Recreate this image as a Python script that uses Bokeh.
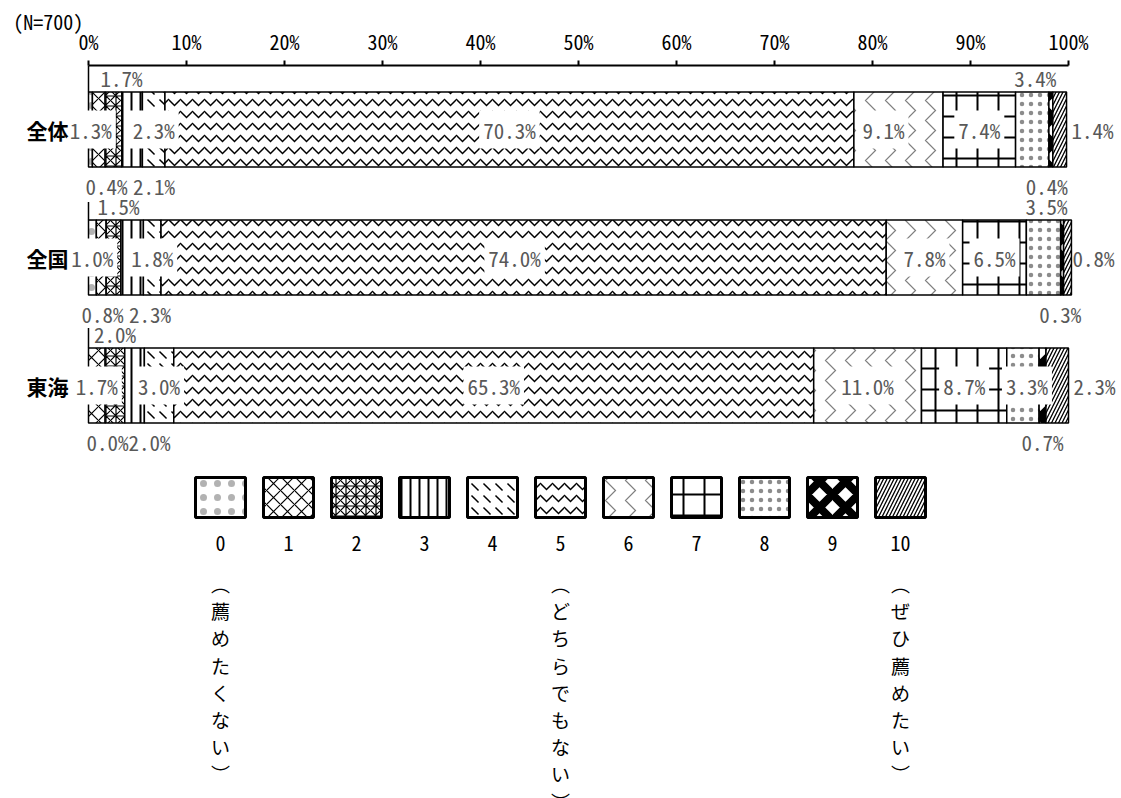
from bokeh.plotting import figure
from bokeh.models import ColumnDataSource, Range1d, LinearAxis, FixedTicker
from bokeh.core.properties import value
from bokeh.embed import file_html
from bokeh.resources import INLINE

# ---------------- data ----------------
categories = ["全体", "全国", "東海"]
sample_note = "(N=700)"
scale_points = ["0", "1", "2", "3", "4", "5", "6", "7", "8", "9", "10"]
anchor_index = [0, 5, 10]
anchor_text = ["（薦めたくない）", "（どちらでもない）", "（ぜひ薦めたい）"]
pct_overall = [0.4, 1.3, 1.7, 2.1, 2.3, 70.3, 9.1, 7.4, 3.4, 0.4, 1.4]
pct_national = [0.8, 1.0, 1.5, 2.3, 1.8, 74.0, 7.8, 6.5, 3.5, 0.3, 0.8]
pct_tokai = [0.0, 1.7, 2.0, 2.0, 3.0, 65.3, 11.0, 8.7, 3.3, 0.7, 2.3]
series = [pct_overall, pct_national, pct_tokai]
x_ticks = [0, 10, 20, 30, 40, 50, 60, 70, 80, 90, 100]
x_tick_labels = ["0%", "10%", "20%", "30%", "40%", "50%", "60%", "70%", "80%", "90%", "100%"]

# ---------------- style ----------------
W, H = 1121, 798
PX_PCT = 9.8            # pixels per percent
X0_PX = 88              # 0% position inside canvas
TOP = 65                # frame top (axis line)
ROW_PX = 128.0          # pixels per row unit
BAR_H = 75 / ROW_PX
GRAY = "#595959"
MONO = "Noto Sans Mono CJK JP"
SANS = "Noto Sans CJK JP"
NOTE_X = -4.1           # x (in % units) where the sample-size note is centred

hatch_pat = [".", "x", "*", "|", "`", "v", ">", "+", ".", "x", "/"]
hatch_scl = [14, 14, 10, 9, 12, 12, 20, 21, 9, 26, 7]
hatch_wt = [1, 1.2, 1.2, 2.0, 1.5, 1.5, 1.2, 2.0, 1, 8.0, 1.3]
hatch_al = [0.3, 1, 1, 1, 1, 1, 0.5, 1, 0.45, 1, 1]

place = [
    ["below", "in", "above", "below", "in", "in", "in", "in", "above", "below", "right"],
    ["below", "in", "above", "below", "in", "in", "in", "in", "above", "below", "right"],
    ["below", "in", "above", "below", "in", "in", "in", "in", "in", "below", "right"],
]
dx = [
    [16, -8, 8, 22, 0, 0, -15, 0, 3, -4, 5],
    [10, -9, 5, 18, 0, -9, 0, 0, 3, -2, 1],
    [19, 0, 0, 15, 0, 0, 0, 0, 4, 0, 5],
]
dy_above = -14
dy_below = 19
leader_px = [27, 18, 20]

x_start = -X0_PX / PX_PCT
x_end = (W - X0_PX) / PX_PCT
frame_h = H - TOP
y_bottom = frame_h / ROW_PX

p = figure(width=W, height=H, x_range=Range1d(x_start, x_end),
           y_range=Range1d(y_bottom, 0), output_backend="svg",
           toolbar_location=None, x_axis_location=None, y_axis_location=None,
           min_border_left=0, min_border_right=0, min_border_bottom=0,
           min_border_top=TOP)
p.outline_line_color = None
p.grid.visible = False
p.background_fill_color = "white"
p.border_fill_color = "white"

# top axis
ax = LinearAxis(ticker=FixedTicker(ticks=x_ticks),
                major_label_overrides={t: l for t, l in zip(x_ticks, x_tick_labels)})
ax.bounds = (0, 100)
ax.axis_line_width = 2
ax.axis_line_color = "black"
ax.major_tick_out = 5
ax.major_tick_in = 0
ax.major_tick_line_width = 2
ax.minor_tick_out = 0
ax.minor_tick_in = 0
ax.major_label_standoff = 5
ax.major_label_text_font = MONO
ax.major_label_text_font_size = "20px"
ax.major_label_text_color = "black"
p.add_layout(ax, "above")

# sample-size note, carried by an outer, line-less axis
note_ax = LinearAxis(ticker=FixedTicker(ticks=[NOTE_X]),
                     major_label_overrides={NOTE_X: sample_note})
note_ax.axis_line_color = None
note_ax.major_tick_line_color = None
note_ax.minor_tick_line_color = None
note_ax.major_tick_out = 0
note_ax.major_tick_in = 0
note_ax.minor_tick_out = 0
note_ax.minor_tick_in = 0
note_ax.major_label_standoff = -12
note_ax.major_label_text_font = MONO
note_ax.major_label_text_font_size = "20px"
note_ax.major_label_text_color = "black"
p.add_layout(note_ax, "above")

# bars
rx, ry, rw, rh, pat, scl, wt, al = [], [], [], [], [], [], [], []
lab_in = dict(x=[], y=[], t=[], xo=[])
lab_out = dict(x=[], y=[], t=[], xo=[], yo=[], align=[])
for r, vals in enumerate(series):
    yc = r + 0.5
    cum = 0.0
    for k, v in enumerate(vals):
        rx.append(cum + v / 2)
        ry.append(yc)
        rw.append(v)
        rh.append(BAR_H)
        pat.append(hatch_pat[k])
        scl.append(hatch_scl[k])
        wt.append(hatch_wt[k])
        al.append(hatch_al[k])
        txt = f"{v:.1f}%"
        pl = place[r][k]
        if pl == "in":
            lab_in["x"].append(cum + v / 2)
            lab_in["y"].append(yc)
            lab_in["t"].append(txt)
            lab_in["xo"].append(dx[r][k])
        else:
            if pl == "right":
                lab_out["x"].append(cum + v)
                lab_out["y"].append(yc)
                lab_out["yo"].append(0)
                lab_out["align"].append("left")
            elif pl == "above":
                lab_out["x"].append(cum + v / 2)
                lab_out["y"].append(yc - BAR_H / 2)
                lab_out["yo"].append(dy_above)
                lab_out["align"].append("center")
            else:
                lab_out["x"].append(cum + v / 2)
                lab_out["y"].append(yc + BAR_H / 2)
                lab_out["yo"].append(dy_below)
                lab_out["align"].append("center")
            lab_out["t"].append(txt)
            lab_out["xo"].append(dx[r][k])
        cum += v

src = ColumnDataSource(dict(x=rx, y=ry, w=rw, h=rh, pat=pat, scl=scl, wt=wt, al=al))
p.rect(x="x", y="y", width="w", height="h", source=src, fill_color="white",
       hatch_pattern="pat", hatch_scale="scl", hatch_weight="wt", hatch_color="black",
       hatch_alpha="al", line_color="black", line_width=1.5)

# leader lines at the bar start
ly0 = [r + 0.5 - BAR_H / 2 for r in range(len(categories))]
ly1 = [y - L / ROW_PX for y, L in zip(ly0, leader_px)]
p.segment(x0=[0] * 3, y0=ly0, x1=[0] * 3, y1=ly1, line_color="black", line_width=1.5)

p.text(x="x", y="y", text="t", x_offset="xo", source=ColumnDataSource(lab_in),
       text_align="center", text_baseline="middle", text_font=value(MONO),
       text_font_size="21px", text_color=GRAY, background_fill_color="white",
       padding=4)
p.text(x="x", y="y", text="t", x_offset="xo", y_offset="yo", text_align="align",
       source=ColumnDataSource(lab_out), text_baseline="middle",
       text_font=value(MONO), text_font_size="21px", text_color=GRAY)

# category labels
p.text(x=[0] * 3, y=[r + 0.5 for r in range(len(categories))], text=categories,
       x_offset=-20, text_align="right", text_baseline="middle",
       text_font=value(SANS), text_font_size="21px", text_font_style="bold",
       text_color="black")

# legend
LEG_X0, LEG_STEP, LEG_W, LEG_H, LEG_Y = 132, 68, 50, 40, 432
NUM_Y, VT_Y, VT_STEP = 478, 518, 27.2
lx = [(LEG_X0 + LEG_STEP * k) / PX_PCT for k in range(len(scale_points))]
lsrc = ColumnDataSource(dict(x=lx, y=[LEG_Y / ROW_PX] * len(lx), pat=hatch_pat,
                             scl=hatch_scl, wt=hatch_wt, al=hatch_al))
p.rect(x="x", y="y", width=LEG_W / PX_PCT, height=LEG_H / ROW_PX, source=lsrc,
       fill_color="white", hatch_pattern="pat", hatch_scale="scl", hatch_weight="wt",
       hatch_color="black", hatch_alpha="al", line_color="black", line_width=3)
p.text(x=lx, y=[NUM_Y / ROW_PX] * len(lx), text=scale_points, text_align="center",
       text_baseline="middle", text_font=value(MONO), text_font_size="20px",
       text_color="black")

vmap = {"（": "︵", "）": "︶"}
vx, vy, vt = [], [], []
for idx, s in zip(anchor_index, anchor_text):
    for j, ch in enumerate(s):
        vx.append(lx[idx])
        vy.append((VT_Y + VT_STEP * j) / ROW_PX)
        vt.append(vmap.get(ch, ch))
p.text(x=vx, y=vy, text=vt, text_align="center", text_baseline="middle",
       text_font=value(SANS), text_font_size="19px", text_color="black")

open("out.html", "w").write(file_html(p, INLINE))
